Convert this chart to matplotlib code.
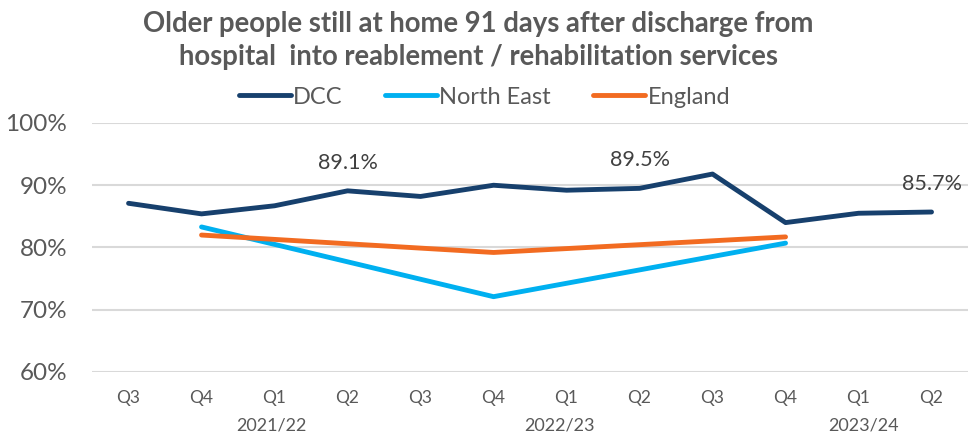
import matplotlib.pyplot as plt
import numpy as np

plt.rcParams['font.family'] = ['Lato', 'DejaVu Sans']

# Daten
quarters = ['Q3', 'Q4', 'Q1', 'Q2', 'Q3', 'Q4', 'Q1', 'Q2', 'Q3', 'Q4', 'Q1', 'Q2']
years = ['2021/22', '2022/23', '2023/24']
year_pos = [1.95, 5.9, 10.07]

dcc = [87.1, 85.4, 86.7, 89.1, 88.2, 90.0, 89.2, 89.5, 91.8, 84.0, 85.5, 85.7]
ne_idx = [1, 5, 9]
north_east = [83.3, 72.1, 80.7]
eng_idx = [1, 5, 9]
england = [82.0, 79.2, 81.7]

label_idx = [3, 7, 11]

fig = plt.figure(figsize=(9.69, 4.38), dpi=100)
ax = fig.add_axes([0.095, 0.1507, 0.904, 0.5685])

x = np.arange(len(quarters))
ax.plot(x, dcc, color='#17406d', lw=3.5, solid_capstyle='round', label='DCC', zorder=3)
ax.plot(ne_idx, north_east, color='#00b0f0', lw=3.5, solid_capstyle='round', label='North East', zorder=2)
ax.plot(eng_idx, england, color='#f26b21', lw=3.5, solid_capstyle='round', label='England', zorder=2)

for i in label_idx:
    ax.annotate(f'{dcc[i]:.1f}%', (i, dcc[i]), xytext=(0, 13), textcoords='offset points',
                ha='center', va='bottom', fontsize=15.5, color='#404040')

ax.set_xlim(-0.5, len(quarters) - 0.5)
ax.set_ylim(60, 100)
ax.set_yticks(range(60, 101, 10))
ax.set_yticklabels([f'{v}%' for v in range(60, 101, 10)], fontsize=17.5, color='#595959')
ax.set_xticks(x)
ax.set_xticklabels(quarters, fontsize=12.5, color='#595959')
ax.tick_params(axis='y', length=0, pad=18)
ax.tick_params(axis='x', length=0, pad=13)
ax.grid(axis='y', color='#d9d9d9', lw=1.5)
ax.set_axisbelow(True)
for s in ax.spines.values():
    s.set_visible(False)

for yr, p in zip(years, year_pos):
    ax.text(p, -0.215, yr, transform=ax.get_xaxis_transform(), ha='center', va='center',
            fontsize=13, color='#595959')

fig.text(0.494, 0.945, 'Older people still at home 91 days after discharge from',
         ha='center', va='center', fontsize=19.8, fontweight='bold', color='#595959')
fig.text(0.494, 0.87, 'hospital  into reablement / rehabilitation services',
         ha='center', va='center', fontsize=19.8, fontweight='bold', color='#595959')

fig.legend(loc='center', bbox_to_anchor=(0.5, 0.778), ncol=3, frameon=False, fontsize=17,
           handlelength=2.2, handletextpad=0.1, columnspacing=1.8, labelcolor='#595959')

plt.savefig('out.png', dpi=100)
